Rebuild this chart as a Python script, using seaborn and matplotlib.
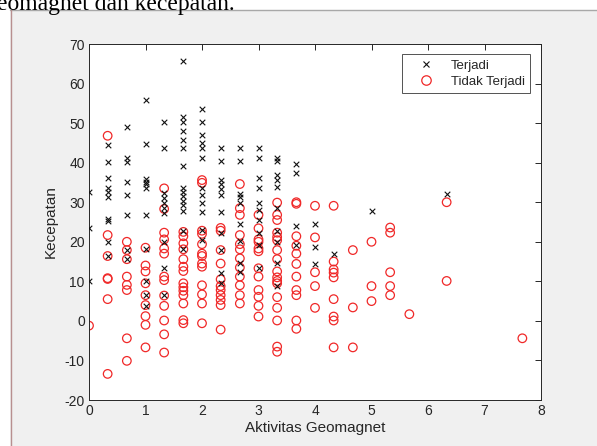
import numpy as np
import pandas as pd
import matplotlib
matplotlib.use("Agg")
import matplotlib.pyplot as plt
from matplotlib.patches import Rectangle
from matplotlib.lines import Line2D
import seaborn as sns

# ---- data ----
terjadi_x = ([0]*3 + [0.33]*10 + [0.67]*8 + [1]*11 + [1.33]*10 + [1.67]*15 + [2]*12 +
             [2.33]*11 + [2.67]*9 + [3]*10 + [3.33]*10 + [3.67]*4 + [4]*3 + [4.33] + [5] + [6.33])
terjadi_y = [32.5, 23.5, 10,
             44.5, 40.2, 36.2, 33.7, 32.7, 31.4, 25.8, 25.2, 20, 16.4,
             49.1, 41.2, 40.2, 35.1, 31.7, 26.8, 17.9, 15.6,
             55.8, 44.6, 35.9, 35.2, 34.6, 33.5, 26.8, 18.1, 10.1, 6.5, 3.8,
             50.3, 43.6, 32.3, 31.0, 29.8, 28.5, 27.3, 20, 13.3, 6.5,
             65.8, 51.6, 50.3, 48.1, 45.7, 43.6, 39.2, 33.6, 32.5, 31.5, 30.3, 29.2, 27.9, 22.8, 18.1,
             53.5, 50.4, 47, 45, 43.7, 41.3, 33.5, 31.8, 29.7, 27.6, 23.1, 20.4,
             43.6, 40.3, 35.6, 34.5, 33.4, 31.8, 27.6, 22.3, 17.8, 12.2, 9.5,
             43.6, 40.3, 32.2, 31.2, 29.7, 24.5, 20.3, 14.7, 12.4,
             43.8, 41.3, 36, 33.5, 29.9, 28, 25.5, 22.3, 19.2, 13.3,
             41.3, 40.5, 36.9, 35.5, 33.9, 28.6, 22.6, 20, 14.7, 8.8,
             39.7, 37.5, 24, 19.2,
             24.6, 18.8, 14.4,
             16.9,
             27.9,
             32.1]

tidak_x = ([0] + [0.33]*7 + [0.67]*8 + [1]*9 + [1.33]*13 + [1.67]*14 + [2]*13 + [2.33]*11 +
           [2.67]*12 + [3]*12 + [3.33]*17 + [3.67]*11 + [4]*5 + [4.33]*9 + [4.67]*3 + [5]*3 +
           [5.33]*5 + [5.67] + [6.33]*2 + [7.67])
tidak_y = [-1.2,
           46.8, 21.7, 16.4, 10.8, 10.6, 5.5, -13.4,
           20, 17.9, 15.6, 11.2, 9.1, 7.8, -4.4, -10.1,
           18.5, 14, 12.5, 9.5, 6.5, 4, 1.2, -1, -6.7,
           33.5, 28.3, 22.3, 20.6, 18.3, 17, 11.2, 10.3, 6.4, 3.8, 0.1, -3.4, -8,
           22.5, 21.4, 19.6, 18.1, 15.6, 13.7, 12.6, 9.5, 8.5, 7.6, 6.5, 4.4, 0.2, -0.6,
           35.6, 34.9, 22.8, 22, 19.4, 17, 16.4, 14.5, 13.7, 9, 6.7, 4.4, -0.6,
           23.5, 22.8, 17.9, 14.5, 10.5, 8.8, 7.8, 6.5, 5.3, 4, -2.2,
           34.6, 28.5, 26.8, 21.7, 19.4, 18.1, 15.8, 13.5, 11.2, 9, 6.5, 4.4,
           26.8, 23.4, 20.6, 20, 18.3, 17.6, 13.3, 11.2, 7.8, 6.1, 3.8, 1.1,
           29.9, 26.8, 25.5, 22.3, 21.2, 20.4, 17.9, 15.6, 12.5, 11, 10.1, 9.5, 6, 3.3, 0.1, -6.5, -7.8,
           30.0, 29.6, 21.4, 19, 17, 14.4, 11.2, 7.8, 6.5, 0.1, -2,
           29.1, 21.1, 12.3, 8.8, 3.3,
           29.1, 15, 13, 12.2, 11, 5.5, 1.1, 0.1, -6.7,
           17.9, 3.4, -6.7,
           20, 8.8, 5,
           23.6, 22.3, 12.3, 8.8, 6.5,
           1.7,
           30, 10.1,
           -4.4]

x_ticks = [0, 1, 2, 3, 4, 5, 6, 7, 8]
y_ticks = [-20, -10, 0, 10, 20, 30, 40, 50, 60, 70]
label_terjadi = "Terjadi"
label_tidak = "Tidak Terjadi"
x_label = "Aktivitas Geomagnet"
y_label = "Kecepatan"
page_text = "eomagnet dan kecepatan."

df_t = pd.DataFrame({"x": terjadi_x, "y": terjadi_y})
df_n = pd.DataFrame({"x": tidak_x, "y": tidak_y})

sns.set_theme(style="white")
plt.rcParams["font.family"] = ["Liberation Sans", "DejaVu Sans"]

W, H = 597, 446
fig = plt.figure(figsize=(W/100, H/100), dpi=100, facecolor="white")

# grey figure panel (screenshot of a figure window)
panel = Rectangle((10/W, 0), 1 - 10/W, 1 - 10/H, transform=fig.transFigure,
                  facecolor="#f0f0f0", edgecolor="none", zorder=-10)
fig.patches.append(panel)
fig.add_artist(Line2D([10/W, 1], [1 - 10/H, 1 - 10/H], transform=fig.transFigure,
                      color="#a8a8a8", lw=1.0, zorder=-5))
fig.add_artist(Line2D([10.5/W, 10.5/W], [0, 1 - 10/H], transform=fig.transFigure,
                      color="#b89090", lw=1.0, zorder=-5))

fig.text(-3/W, 1 - 10/H, page_text, fontsize=17, family=["Liberation Serif", "DejaVu Serif"],
         ha="left", va="baseline", color="black")

ax = fig.add_axes([89/W, 1 - 400/H, (541-89)/W, (400-44)/H])
ax.set_zorder(1)
ax.set_facecolor("white")

red = "#f02828"
sns.scatterplot(data=df_t, x="x", y="y", ax=ax, marker="x", color="#111111",
                s=16, linewidth=0.8, zorder=3)
sns.scatterplot(data=df_n, x="x", y="y", ax=ax, marker="o", facecolors="none",
                edgecolor=red, s=38, linewidth=0.9, zorder=2)

ax.set_xlim(0, 8)
ax.set_ylim(-20, 70)
ax.set_xticks(x_ticks)
ax.set_yticks(y_ticks)
ax.set_xticklabels([str(v) for v in x_ticks])
ax.set_yticklabels([str(v) for v in y_ticks])
ax.tick_params(direction="in", length=4, width=0.7, colors="#262626",
               labelsize=10, top=True, right=True, pad=3)
for sp in ax.spines.values():
    sp.set_visible(True)
    sp.set_color("#262626")
    sp.set_linewidth(0.7)

ax.set_xlabel(x_label, fontsize=11, color="#262626", labelpad=2)
ax.set_ylabel(y_label, fontsize=11, color="#262626", labelpad=5)

handles = [Line2D([], [], marker="x", color="#111111", linestyle="none", markersize=5, markeredgewidth=0.8),
           Line2D([], [], marker="o", markerfacecolor="none", markeredgecolor=red,
                  linestyle="none", markersize=6.8, markeredgewidth=0.9)]
leg = ax.legend(handles, [label_terjadi, label_tidak], loc="upper right",
                bbox_to_anchor=(1 - 11/452, 1 - 10/356), fontsize=9.5,
                frameon=True, fancybox=False, borderaxespad=0, handletextpad=0.5,
                borderpad=0.4, labelspacing=0.3, handlelength=2.8)
leg.get_frame().set_edgecolor("#262626")
leg.get_frame().set_linewidth(0.7)
for t in leg.get_texts():
    t.set_color("#262626")

fig.savefig("out.png", dpi=100, facecolor="white")
